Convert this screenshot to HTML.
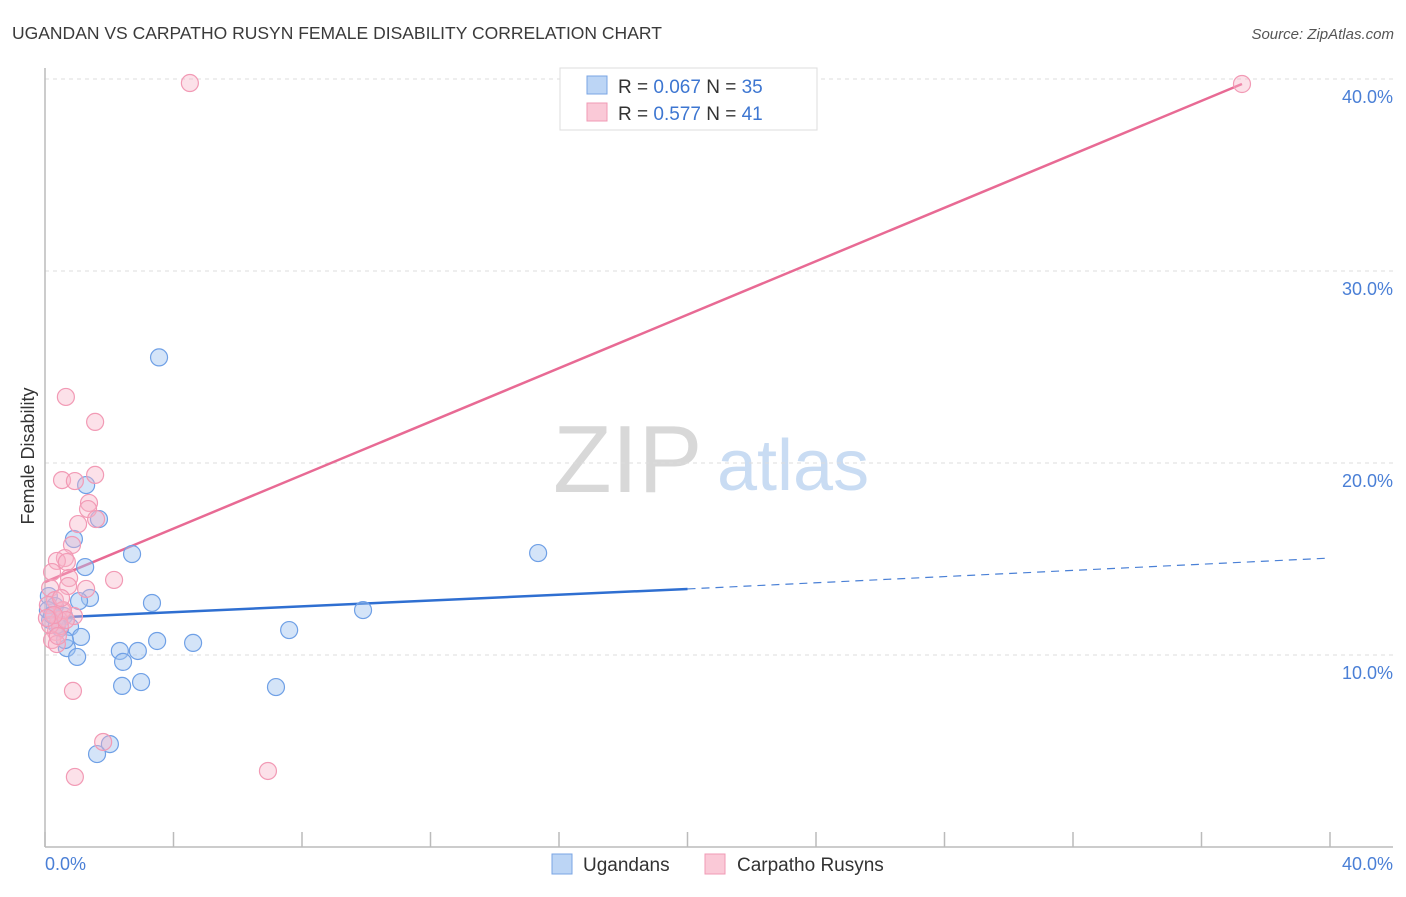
<!DOCTYPE html>
<html><head><meta charset="utf-8"><style>
body{margin:0;background:#fff;font-family:"Liberation Sans",sans-serif}
svg text{font-family:"Liberation Sans",sans-serif}
</style></head><body>
<svg id="chart" width="1406" height="892" xmlns="http://www.w3.org/2000/svg">
<text x="12" y="39" font-size="17.5" fill="#3a3a3a">UGANDAN VS CARPATHO RUSYN FEMALE DISABILITY CORRELATION CHART</text>
<text x="1394" y="39" font-size="15" fill="#555" text-anchor="end" font-style="italic">Source: ZipAtlas.com</text>
<g>
<text x="553" y="492" font-family="Liberation Serif" font-size="96" fill="#d8d8d8">ZIP</text>
<text x="717" y="490" font-size="72" fill="#c9dcf3">atlas</text>
</g>
<g id="grid"></g>
<line x1="45" y1="68" x2="45" y2="847" stroke="#bbb" stroke-width="1.5"/>
<line x1="45" y1="847" x2="1393" y2="847" stroke="#bbb" stroke-width="1.5"/>
<g id="xticks"></g>
<g id="yticks"></g>
<text x="45" y="870" font-size="18" fill="#4a7fd6">0.0%</text>
<text x="1393" y="870" font-size="18" fill="#4a7fd6" text-anchor="end">40.0%</text>
<text transform="translate(34,456) rotate(-90)" font-size="18" fill="#333" text-anchor="middle">Female Disability</text>
<g id="lines"></g>
<g id="pts"></g>
<g>
<rect x="560" y="68" width="257" height="62" fill="#fff" stroke="#ddd"/>
<rect x="587" y="76" width="20" height="18" fill="#bcd5f5" stroke="#7aa5e4"/>
<rect x="587" y="103" width="20" height="18" fill="#fac9d7" stroke="#f09ab4"/>
<text x="618" y="93" font-size="19" fill="#333">R = <tspan fill="#3d76d1">0.067</tspan>   N = <tspan fill="#3d76d1">35</tspan></text>
<text x="618" y="120" font-size="19" fill="#333">R = <tspan fill="#3d76d1"> 0.577</tspan>   N = <tspan fill="#3d76d1"> 41</tspan></text>
</g>
<g>
<rect x="552" y="854" width="20" height="20" fill="#bcd5f5" stroke="#7aa5e4"/>
<text x="583" y="871" font-size="19" fill="#333">Ugandans</text>
<rect x="705" y="854" width="20" height="20" fill="#fac9d7" stroke="#f09ab4"/>
<text x="737" y="871" font-size="19" fill="#333">Carpatho Rusyns</text>
</g>
</svg>
<script>
const yTicks=[10,20,30,40];
const yTickLabels=["10.0%","20.0%","30.0%","40.0%"];
const blueX=[3.55,1.28,1.68,0.90,2.71,1.25,15.35,1.40,1.06,3.33,0.12,0.31,0.59,9.90,7.60,0.78,1.12,3.49,4.61,2.33,2.89,0.68,1.00,2.43,2.99,2.40,7.19,2.02,1.62,0.16,0.47,0.09,0.37,0.62,0.22];
const blueY=[25.5,18.85,17.08,16.04,15.26,14.58,15.31,12.97,12.81,12.71,13.07,12.55,12.03,12.34,11.30,11.46,10.94,10.73,10.63,10.21,10.21,10.36,9.90,9.64,8.59,8.39,8.33,5.36,4.84,11.82,11.41,12.34,11.56,10.78,12.08];
const pinkX=[4.51,37.26,0.65,1.56,0.53,0.93,1.56,1.37,1.34,1.03,1.59,0.84,0.62,0.37,0.68,0.22,0.75,2.15,0.72,1.28,0.90,0.53,0.16,0.31,0.44,0.34,0.47,0.22,0.37,0.87,1.81,0.93,6.94,0.56,0.09,0.16,0.40,0.65,0.28,0.50,0.06];
const pinkY=[39.79,39.74,23.44,22.14,19.11,19.06,19.38,17.92,17.60,16.82,17.08,15.73,15.05,14.90,14.84,14.32,14.01,13.91,13.59,13.44,12.03,12.29,13.49,12.86,11.82,11.20,11.51,10.78,10.57,8.13,5.47,3.65,3.96,12.34,12.60,11.56,10.99,11.82,12.08,12.97,11.93];
const pinkTrend=[13.80,39.74];const pinkTrendX=[0,37.26];
const blueTrend=[11.93,13.44,15.05];const blueTrendX=[0,20,40];
const NS="http://www.w3.org/2000/svg";
const sx=v=>45+v*32.125, sy=v=>847-v*19.2;
function mk(t,a,p){const e=document.createElementNS(NS,t);for(const k in a)e.setAttribute(k,a[k]);p.appendChild(e);return e;}
const grid=document.getElementById('grid'),yt=document.getElementById('yticks'),xt=document.getElementById('xticks');
yTicks.forEach((v,i)=>{
 const l=mk('line',{x1:45,x2:1393,y1:sy(v),y2:sy(v),stroke:'#ddd','stroke-dasharray':'4,4'},grid);
 
 
 const t=mk('text',{x:1393,y:sy(v)+24,'font-size':18,fill:'#4a7fd6','text-anchor':'end'},yt);
 t.textContent=yTickLabels[i];
 
 
});
for(let k=0;k<=10;k++){const v=k*4;
 const l=mk('line',{x1:sx(v),x2:sx(v),y1:832,y2:847,stroke:'#bbb','stroke-width':1.5},xt);
 
 }
const pg=document.getElementById('pts');
blueX.forEach((x,i)=>{const c=mk('circle',{cx:sx(x),cy:sy(blueY[i]),r:8.5,fill:'rgba(160,196,240,0.45)',stroke:'#6fa0e6','stroke-width':1.2},pg);
 
 });
pinkX.forEach((x,i)=>{const c=mk('circle',{cx:sx(x),cy:sy(pinkY[i]),r:8.5,fill:'rgba(248,180,200,0.4)',stroke:'#f29ab5','stroke-width':1.2},pg);
 
 });
const lg=document.getElementById('lines');
let l1=mk('line',{x1:sx(pinkTrendX[0]),y1:sy(pinkTrend[0]),x2:sx(pinkTrendX[1]),y2:sy(pinkTrend[1]),stroke:'#e86a94','stroke-width':2.5},lg);


let l2=mk('line',{x1:sx(blueTrendX[0]),y1:sy(blueTrend[0]),x2:sx(blueTrendX[1]),y2:sy(blueTrend[1]),stroke:'#2f6fd1','stroke-width':2.5},lg);


let l3=mk('line',{x1:sx(blueTrendX[1]),y1:sy(blueTrend[1]),x2:sx(blueTrendX[2]),y2:sy(blueTrend[2]),stroke:'#4a80d6','stroke-width':1.2,'stroke-dasharray':'8,6'},lg);


</script>
</body></html>
